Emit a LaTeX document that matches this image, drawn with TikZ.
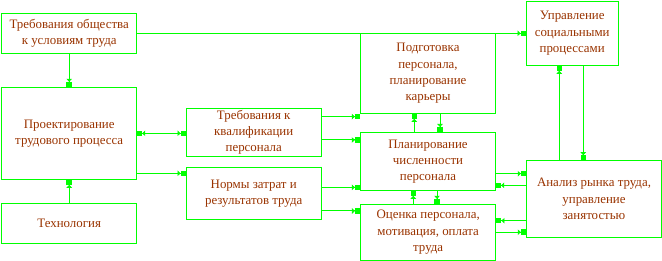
\documentclass[tikz,border=0pt]{standalone}
\usepackage{fontspec}
\setmainfont{Liberation Serif}
\usetikzlibrary{arrows.meta}
\definecolor{lgreen}{RGB}{0,255,0}
\definecolor{tbrown}{RGB}{153,51,0}
\begin{document}
\begin{tikzpicture}[x=1pt,y=-1pt,
  box/.style={draw=lgreen,line width=1pt,rectangle,inner sep=1pt,align=center,
    text=tbrown,font=\fontsize{12.9}{16.2}\selectfont},
  tipa/.tip={Triangle[length=3pt,width=5.5pt] Rectangle[length=5pt,width=5.5pt]},
  conn/.style={draw=lgreen,line width=1pt,-{tipa}},
  conn2/.style={draw=lgreen,line width=1pt,{tipa}-{tipa}}]
\useasboundingbox (0,0) rectangle (662,261);
\node[box,minimum width=135pt,minimum height=40pt] (A) at (69.2,33.3) {Требования общества\\к условиям труда};
\node[box,minimum width=135pt,minimum height=92pt] (B) at (69.2,133.3) {Проектирование\\трудового процесса};
\node[box,minimum width=135pt,minimum height=40pt] (C) at (69.2,223.3) {Технология};
\node[box,minimum width=135.3pt,minimum height=47.7pt] (D) at (253.7,132.2) {Требования к\\квалификации\\персонала};
\node[box,minimum width=135.3pt,minimum height=52pt] (E) at (253.7,193.3) {Нормы затрат и\\результатов труда};
\node[box,minimum width=135.3pt,minimum height=80pt] (F) at (428,73.3) {Подготовка\\персонала,\\планирование\\карьеры};
\node[box,minimum width=92.3pt,minimum height=64pt] (G) at (572.2,33.3) {Управление\\социальными\\процессами};
\node[box,minimum width=135.3pt,minimum height=57.8pt] (H) at (428,161.4) {Планирование\\численности\\персонала};
\node[box,minimum width=135.5pt,minimum height=55.7pt] (I) at (428.2,232.2) {Оценка персонала,\\мотивация, оплата\\труда};
\node[box,minimum width=135.4pt,minimum height=76.6pt] (J) at (594,199) {Анализ рынка труда,\\управление\\занятостью};
% connectors
\draw[conn] (A.east) -- (A.east -| G.west);
\draw[conn] (A.south) -- (B.north);
\draw[conn] (C.north) -- (B.south);
\draw[conn2] (B.east) -- (B.east -| D.west);
\draw[conn] ([yshift=-40pt]B.east) -- ([yshift=-40pt]B.east -| E.west);
\draw[conn] ([yshift=15.5pt]D.east) -- ([yshift=15.5pt]D.east -| F.west);
\draw[conn] ([yshift=-7.8pt]D.east) -- ([yshift=-7.8pt]D.east -| H.west);
\draw[conn] ([yshift=6pt]E.east) -- ([yshift=6pt]E.east -| H.west);
\draw[conn] ([yshift=-17.7pt]E.east) -- ([yshift=-17.7pt]E.east -| I.west);
\draw[conn] ([xshift=-13.7pt]H.north) -- ([xshift=-13.7pt]H.north |- F.south);
\draw[conn] ([xshift=12pt]F.south) -- ([xshift=12pt]F.south |- H.north);
\draw[conn] ([xshift=-14.9pt]I.north) -- ([xshift=-14.9pt]I.north |- H.south);
\draw[conn] ([xshift=9pt]H.south) -- ([xshift=9pt]H.south |- I.north);
\draw[conn] ([xshift=-34.7pt]J.north) -- ([xshift=-34.7pt]J.north |- G.south);
\draw[conn] ([xshift=11.1pt]G.south) -- ([xshift=11.1pt]G.south |- J.north);
\draw[conn] ([yshift=-12.3pt]H.east) -- ([yshift=-12.3pt]H.east -| J.west);
\draw[conn] ([yshift=-23.9pt]H.east -| J.west) -- ([yshift=-23.9pt]H.east);
\draw[conn] ([yshift=11.5pt]I.east -| J.west) -- ([yshift=11.5pt]I.east);
\draw[conn] (I.east) -- (I.east -| J.west);
\end{tikzpicture}
\end{document}
